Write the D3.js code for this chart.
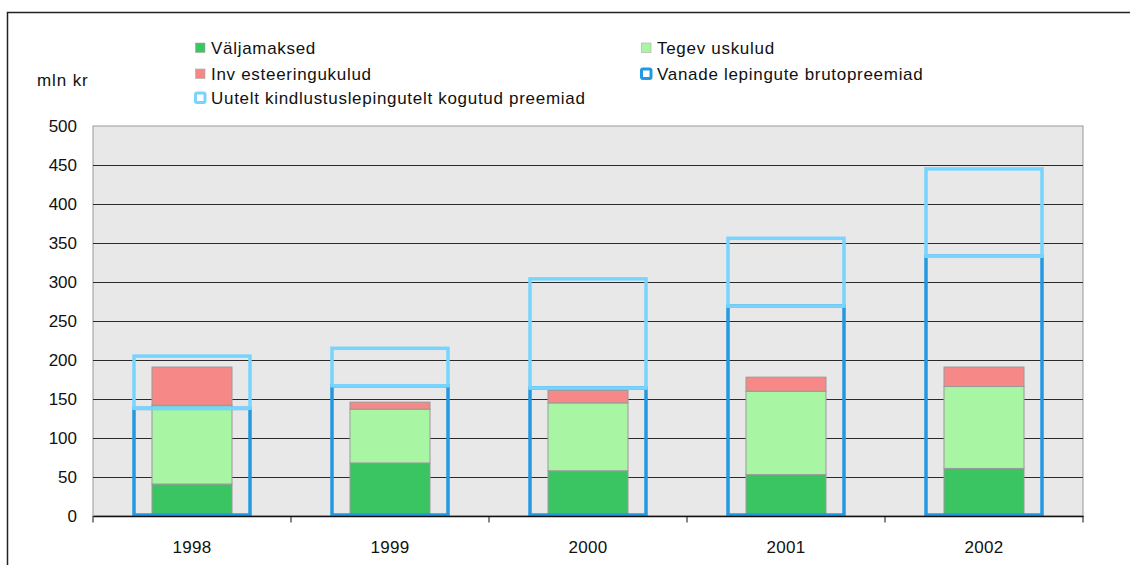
<!DOCTYPE html>
<html>
<head>
<meta charset="utf-8">
<script src="https://cdn.jsdelivr.net/npm/d3@7"></script>
<style>
  body { margin: 0; background: #fff; }
  text { font-family: "Liberation Sans", Arial, sans-serif; fill: #111; }
</style>
</head>
<body>
<svg id="chart" width="1130" height="565"></svg>
<script>
const years = ["1998", "1999", "2000", "2001", "2002"];
const valjamaksed = [41, 68, 58, 53, 61];
const tegevuskulud = [101, 69, 87, 107, 105];
const investeeringukulud = [49, 9, 16, 18, 25];
const vanade = [138, 167, 164, 269, 333];
const uutelt = [67, 48, 140, 87, 112];
const yTicks = [0, 50, 100, 150, 200, 250, 300, 350, 400, 450, 500];

const stackNames = ["Väljamaksed", "Tegev uskulud", "Inv esteeringukulud"];
const stackColors = ["#3ac462", "#a8f6a4", "#f68987"];
const vanadeColor = "#2299e0", uuteltColor = "#77d4ff";

const plotLeft = 93, plotRight = 1083, plotTop = 126, plotBottom = 516;
const fontSize = 17;

const svg = d3.select("#chart");

// outer frame
svg.append("rect")
    .attr("x", 7.5).attr("y", 12.5)
    .attr("width", 1200).attr("height", 700)
    .attr("fill", "none")
    .attr("stroke", "#222")
    .attr("stroke-width", 1.5);

const x = d3.scaleBand().domain(years).range([plotLeft, plotRight]);
const y = d3.scaleLinear().domain([0, 500]).range([plotBottom, plotTop]);

// plot background
svg.append("rect")
    .attr("x", plotLeft).attr("y", plotTop)
    .attr("width", plotRight - plotLeft).attr("height", plotBottom - plotTop)
    .attr("fill", "#e8e8e8")
    .attr("stroke", "#999")
    .attr("stroke-width", 1);

// grid lines
svg.append("g")
    .selectAll("line")
    .data(yTicks.filter(d => d > 0 && d < 500))
    .join("line")
    .attr("x1", plotLeft).attr("x2", plotRight)
    .attr("y1", d => Math.round(y(d)) + 0.5)
    .attr("y2", d => Math.round(y(d)) + 0.5)
    .attr("stroke", "#2a2a2a")
    .attr("stroke-width", 1.2);

// stacked bars
const rows = years.map((yr, i) => ({
    year: yr,
    s0: valjamaksed[i], s1: tegevuskulud[i], s2: investeeringukulud[i]
}));
const stack = d3.stack().keys(["s0", "s1", "s2"])(rows);
const barW = 80;

svg.append("g")
    .selectAll("g")
    .data(stack)
    .join("g")
    .attr("fill", (d, i) => stackColors[i])
    .selectAll("rect")
    .data(d => d)
    .join("rect")
    .attr("x", d => x(d.data.year) + x.bandwidth() / 2 - barW / 2)
    .attr("y", d => y(d[1]))
    .attr("width", barW)
    .attr("height", d => y(d[0]) - y(d[1]))
    .attr("stroke", "#999")
    .attr("stroke-width", 1);

// premium outlines
const boxW = 116;
svg.append("g")
    .selectAll("rect")
    .data(years)
    .join("rect")
    .attr("x", d => x(d) + x.bandwidth() / 2 - boxW / 2)
    .attr("y", (d, i) => y(vanade[i]))
    .attr("width", boxW)
    .attr("height", (d, i) => y(0) - y(vanade[i]) - 1)
    .attr("fill", "none")
    .attr("stroke", vanadeColor)
    .attr("stroke-width", 3.5);

svg.append("g")
    .selectAll("rect")
    .data(years)
    .join("rect")
    .attr("x", d => x(d) + x.bandwidth() / 2 - boxW / 2)
    .attr("y", (d, i) => y(vanade[i] + uutelt[i]))
    .attr("width", boxW)
    .attr("height", (d, i) => y(vanade[i]) - y(vanade[i] + uutelt[i]))
    .attr("fill", "none")
    .attr("stroke", uuteltColor)
    .attr("stroke-width", 3.5);

// y axis
const yAxis = svg.append("g")
    .attr("transform", `translate(${plotLeft},0)`)
    .call(d3.axisLeft(y).tickValues(yTicks).tickSize(0).tickPadding(16));
yAxis.select(".domain").remove();
yAxis.selectAll("text")
    .attr("font-size", fontSize)
    .attr("font-family", "Liberation Sans, Arial, sans-serif")
    .attr("fill", "#111");

// x axis
const xAxis = svg.append("g")
    .attr("transform", `translate(0,${plotBottom})`)
    .call(d3.axisBottom(x).tickSize(0).tickPadding(25));
xAxis.select(".domain").attr("stroke", "#111").attr("stroke-width", 1.5);
xAxis.selectAll("text")
    .attr("font-size", fontSize)
    .attr("font-family", "Liberation Sans, Arial, sans-serif")
    .attr("letter-spacing", "0.3px")
    .attr("fill", "#111");
xAxis.selectAll(".sep")
    .data(years.map(d => x(d)).concat([plotRight]))
    .join("line")
    .attr("class", "sep")
    .attr("x1", d => d).attr("x2", d => d)
    .attr("y1", 0).attr("y2", 6.5)
    .attr("stroke", "#111");

// unit label
svg.append("text")
    .attr("x", 37).attr("y", 86)
    .attr("font-size", fontSize)
    .attr("letter-spacing", "0.9px")
    .text("mln kr");

// legend
const legend = [
    { name: stackNames[0], color: stackColors[0], type: "fill", col: 0, row: 0 },
    { name: stackNames[1], color: stackColors[1], type: "fill", col: 1, row: 0 },
    { name: stackNames[2], color: stackColors[2], type: "fill", col: 0, row: 1 },
    { name: "Vanade lepingute brutopreemiad", color: vanadeColor, type: "box", col: 1, row: 1 },
    { name: "Uutelt kindlustuslepingutelt kogutud preemiad", color: uuteltColor, type: "box", col: 0, row: 2 }
];
const colX = [194, 640], rowY = [47.5, 73.5, 97.5];
const lg = svg.append("g")
    .selectAll("g")
    .data(legend)
    .join("g")
    .attr("transform", d => `translate(${colX[d.col]},${rowY[d.row]})`);
lg.filter(d => d.type === "fill").append("rect")
    .attr("x", 1.5).attr("y", -4.5)
    .attr("width", 9.5).attr("height", 9.5)
    .attr("fill", d => d.color)
    .attr("stroke", "#aaa")
    .attr("stroke-width", 0.6);
lg.filter(d => d.type === "box").append("rect")
    .attr("x", 1.5).attr("y", -4.5)
    .attr("width", 9.5).attr("height", 9.5)
    .attr("rx", 1.5)
    .attr("fill", "#fff")
    .attr("stroke", d => d.color)
    .attr("stroke-width", 3);
lg.append("text")
    .attr("x", 17).attr("y", 0)
    .attr("dy", "0.36em")
    .attr("font-size", fontSize)
    .attr("letter-spacing", "0.7px")
    .text(d => d.name);
</script>
</body>
</html>
